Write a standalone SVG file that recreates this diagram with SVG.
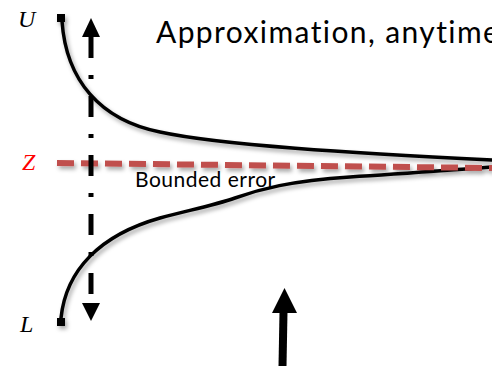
<svg xmlns="http://www.w3.org/2000/svg" width="492" height="366" viewBox="0 0 492 366">
<style>
.curve{fill:none;stroke:#000;stroke-width:3.5;stroke-linecap:round}
.lbl{font-family:"Liberation Serif",serif;font-style:italic;font-size:24px}
.txt{font-family:Lato,"Liberation Sans",sans-serif;fill:#000}
</style>
<defs>
<filter id="sh" x="-10%" y="-10%" width="130%" height="140%">
<feDropShadow dx="2" dy="3" stdDeviation="2" flood-color="#000" flood-opacity="0.35"/>
</filter>
</defs>
<rect width="492" height="366" fill="#fff"/>
<g id="labels">
<text class="lbl" x="18" y="27">U</text>
<text class="lbl" x="22" y="170" fill="#ff0000">Z</text>
<text class="lbl" x="20" y="332">L</text>
</g>
<g id="title"><text class="txt" x="156" y="43" font-size="30" letter-spacing="1.4">Approximation, anytime</text></g>
<g id="connectors">
<g id="bounds" filter="url(#sh)">
<path class="curve" d="M62,21 C66,80 100,120 160,132 C220,145 350,153 492,160"/>
<path class="curve" d="M61,318 C66,270 100,235 160,218 C190,210 215,205 235,198 C260,189 290,181 350,177 C400,174 450,170 492,167"/>
<rect x="57" y="14" width="8" height="8" fill="#000"/>
<rect x="57" y="318" width="8" height="8" fill="#000"/>
<line x1="57" y1="163" x2="492" y2="168" stroke="#c0504d" stroke-width="6" stroke-dasharray="17 7"/>
</g>
<g id="range">
<line x1="91" y1="37" x2="91" y2="303" stroke="#000" stroke-width="5" stroke-dasharray="21 17 4 17"/>
<polygon points="91,18 82,37 100,37" fill="#000"/>
<polygon points="91,321 82,303 100,303" fill="#000"/>
</g>
<g id="pointer">
<line x1="283.5" y1="312" x2="282.5" y2="366" stroke="#000" stroke-width="8"/>
<polygon points="284.5,288 272,313 297,313" fill="#000"/>
</g>
</g>
<g id="bounded-error"><text class="txt" x="135" y="187" font-size="21" letter-spacing="0.5">Bounded error</text></g>
</svg>
